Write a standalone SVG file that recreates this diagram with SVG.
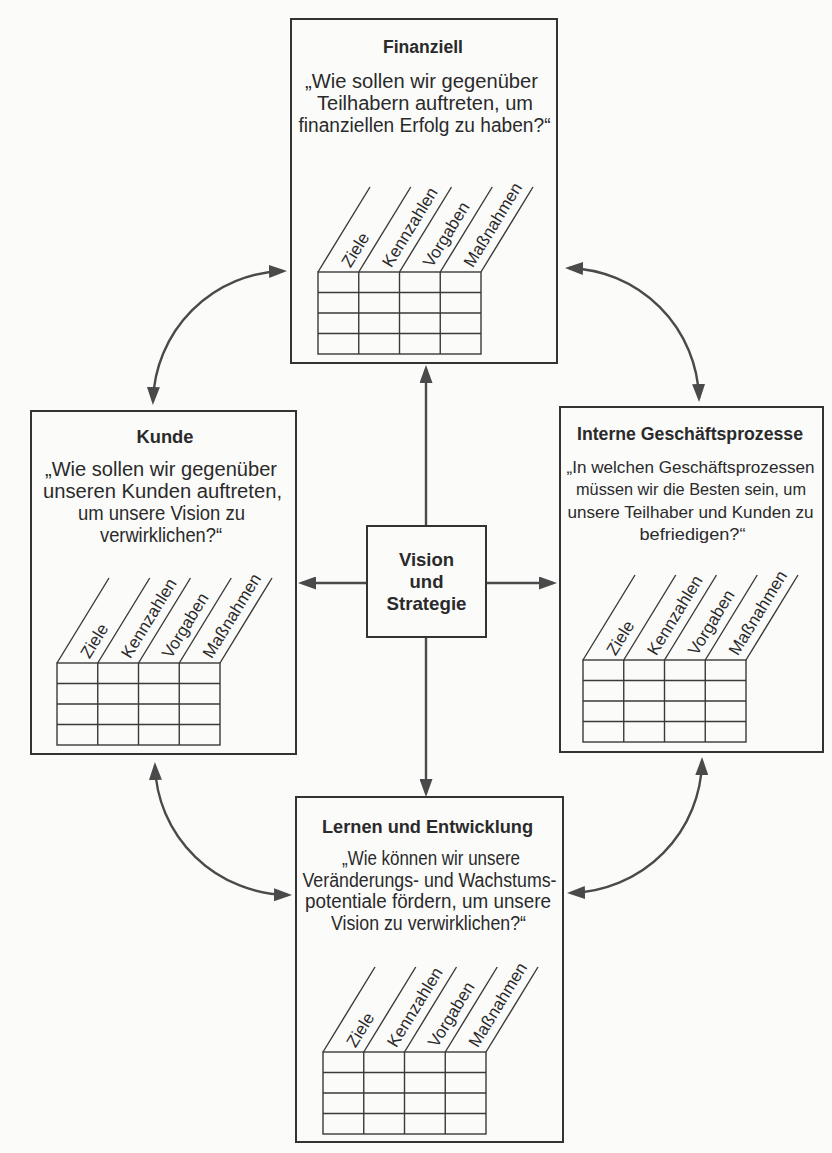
<svg xmlns="http://www.w3.org/2000/svg" xmlns:xlink="http://www.w3.org/1999/xlink" width="832" height="1153" viewBox="0 0 832 1153">
  <style>
    .box { fill: none; stroke: #333; stroke-width: 2; }
    .grid { fill: none; stroke: #3a3a3a; stroke-width: 1.4; }
    .title { font-family: 'Liberation Sans', Arial, sans-serif; font-weight: 700; font-size: 18px; fill: #2a2a2a; text-anchor: middle; }
    .q { font-family: 'Liberation Sans', Arial, sans-serif; font-size: 19.5px; fill: #2a2a2a; text-anchor: middle; }
    .q-tight { font-size: 17px; }
    .center { font-family: 'Liberation Sans', Arial, sans-serif; font-weight: 700; font-size: 18.5px; fill: #2a2a2a; text-anchor: middle; }
    .col { font-family: 'Liberation Sans', Arial, sans-serif; font-size: 17px; fill: #2a2a2a; }
    .conn { fill: none; stroke: #4a4a4a; stroke-width: 2.4; }
  </style>
  <defs>
    <marker id="head" viewBox="0 0 18 13" refX="14" refY="6.5" markerWidth="18" markerHeight="13" markerUnits="userSpaceOnUse" orient="auto-start-reverse">
      <path d="M0,0 L18,6.5 L0,13 Z" fill="#4a4a4a"/>
    </marker>
    <!-- scorecard table: 4 columns x 4 rows with slanted column headers; origin = top-left of grid -->
    <g id="scorecard-table">
      <rect class="grid" x="0" y="0" width="163" height="82"/>
      <path class="grid" d="M40.75,0 V82 M81.5,0 V82 M122.25,0 V82 M0,20.5 H163 M0,41 H163 M0,61.5 H163"/>
      <path class="grid" d="M0,0 l52,-85 M40.75,0 l52,-85 M81.5,0 l52,-85 M122.25,0 l52,-85 M163,0 l52,-85"/>
      <text class="col" transform="translate(0,0) rotate(-58.5)" x="20" y="26">Ziele</text>
      <text class="col" transform="translate(40.75,0) rotate(-58.5)" x="20" y="26">Kennzahlen</text>
      <text class="col" transform="translate(81.5,0) rotate(-58.5)" x="20" y="26">Vorgaben</text>
      <text class="col" transform="translate(122.25,0) rotate(-58.5)" x="20" y="26">Maßnahmen</text>
    </g>
  </defs>

  <rect x="0" y="0" width="832" height="1153" fill="#fbfbfa"/>

  <!-- connectors -->
  <g id="connectors">
    <path class="conn" d="M426,526 V369" marker-end="url(#head)"/>
    <path class="conn" d="M426,637 V793" marker-end="url(#head)"/>
    <path class="conn" d="M367,583 H302" marker-end="url(#head)"/>
    <path class="conn" d="M486,583 H553" marker-end="url(#head)"/>
    <path class="conn" d="M153,401 A134,134 0 0 1 283,271" marker-start="url(#head)" marker-end="url(#head)"/>
    <path class="conn" d="M569,268 A134,134 0 0 1 699,398" marker-start="url(#head)" marker-end="url(#head)"/>
    <path class="conn" d="M155,766 A135,133 0 0 0 288,895" marker-start="url(#head)" marker-end="url(#head)"/>
    <path class="conn" d="M702,761 A135,134 0 0 1 571,893" marker-start="url(#head)" marker-end="url(#head)"/>
  </g>

  <g id="node-finanziell">
    <rect class="box" x="291" y="19" width="266" height="344"/>
    <text class="title" x="423" y="53" textLength="80" lengthAdjust="spacingAndGlyphs">Finanziell</text>
    <text class="q" x="421.5" y="88" textLength="233" lengthAdjust="spacingAndGlyphs">„Wie sollen wir gegenüber</text>
    <text class="q" x="425" y="110" textLength="216" lengthAdjust="spacingAndGlyphs">Teilhabern auftreten, um</text>
    <text class="q" x="424.5" y="132" textLength="252" lengthAdjust="spacingAndGlyphs">finanziellen Erfolg zu haben?“</text>
    <use xlink:href="#scorecard-table" transform="translate(318,272)"/>
  </g>

  <g id="node-kunde">
    <rect class="box" x="31" y="411" width="265" height="343"/>
    <text class="title" x="165" y="443" textLength="57" lengthAdjust="spacingAndGlyphs">Kunde</text>
    <text class="q" x="161" y="476" textLength="232" lengthAdjust="spacingAndGlyphs">„Wie sollen wir gegenüber</text>
    <text class="q" x="162.5" y="498" textLength="239" lengthAdjust="spacingAndGlyphs">unseren Kunden auftreten,</text>
    <text class="q" x="161.5" y="520" textLength="167" lengthAdjust="spacingAndGlyphs">um unsere Vision zu</text>
    <text class="q" x="161" y="542" textLength="122" lengthAdjust="spacingAndGlyphs">verwirklichen?“</text>
    <use xlink:href="#scorecard-table" transform="translate(57,663)"/>
  </g>

  <g id="node-interne">
    <rect class="box" x="560" y="407" width="263" height="345"/>
    <text class="title" x="690" y="440" textLength="226" lengthAdjust="spacingAndGlyphs">Interne Geschäftsprozesse</text>
    <text class="q q-tight" x="690.5" y="473" textLength="248" lengthAdjust="spacingAndGlyphs">„In welchen Geschäftsprozessen</text>
    <text class="q q-tight" x="691" y="495" textLength="230" lengthAdjust="spacingAndGlyphs">müssen wir die Besten sein, um</text>
    <text class="q q-tight" x="690.5" y="518" textLength="246" lengthAdjust="spacingAndGlyphs">unsere Teilhaber und Kunden zu</text>
    <text class="q q-tight" x="692.5" y="540" textLength="106" lengthAdjust="spacingAndGlyphs">befriedigen?“</text>
    <use xlink:href="#scorecard-table" transform="translate(583,660)"/>
  </g>

  <g id="node-lernen">
    <rect class="box" x="296" y="797" width="267" height="345"/>
    <text class="title" x="427.5" y="833" textLength="211" lengthAdjust="spacingAndGlyphs">Lernen und Entwicklung</text>
    <text class="q" x="431" y="865" textLength="178" lengthAdjust="spacingAndGlyphs">„Wie können wir unsere</text>
    <text class="q" x="429.5" y="887" textLength="254" lengthAdjust="spacingAndGlyphs">Veränderungs- und Wachstums-</text>
    <text class="q" x="428" y="908" textLength="246" lengthAdjust="spacingAndGlyphs">potentiale fördern, um unsere</text>
    <text class="q" x="428.5" y="930" textLength="195" lengthAdjust="spacingAndGlyphs">Vision zu verwirklichen?“</text>
    <use xlink:href="#scorecard-table" transform="translate(323,1052)"/>
  </g>

  <g id="node-vision">
    <rect class="box" x="367" y="526" width="119" height="111" fill="#fbfbfa"/>
    <text class="center" x="426.5" y="566">Vision</text>
    <text class="center" x="426.5" y="588">und</text>
    <text class="center" x="426.5" y="610" textLength="80" lengthAdjust="spacingAndGlyphs">Strategie</text>
  </g>
</svg>
